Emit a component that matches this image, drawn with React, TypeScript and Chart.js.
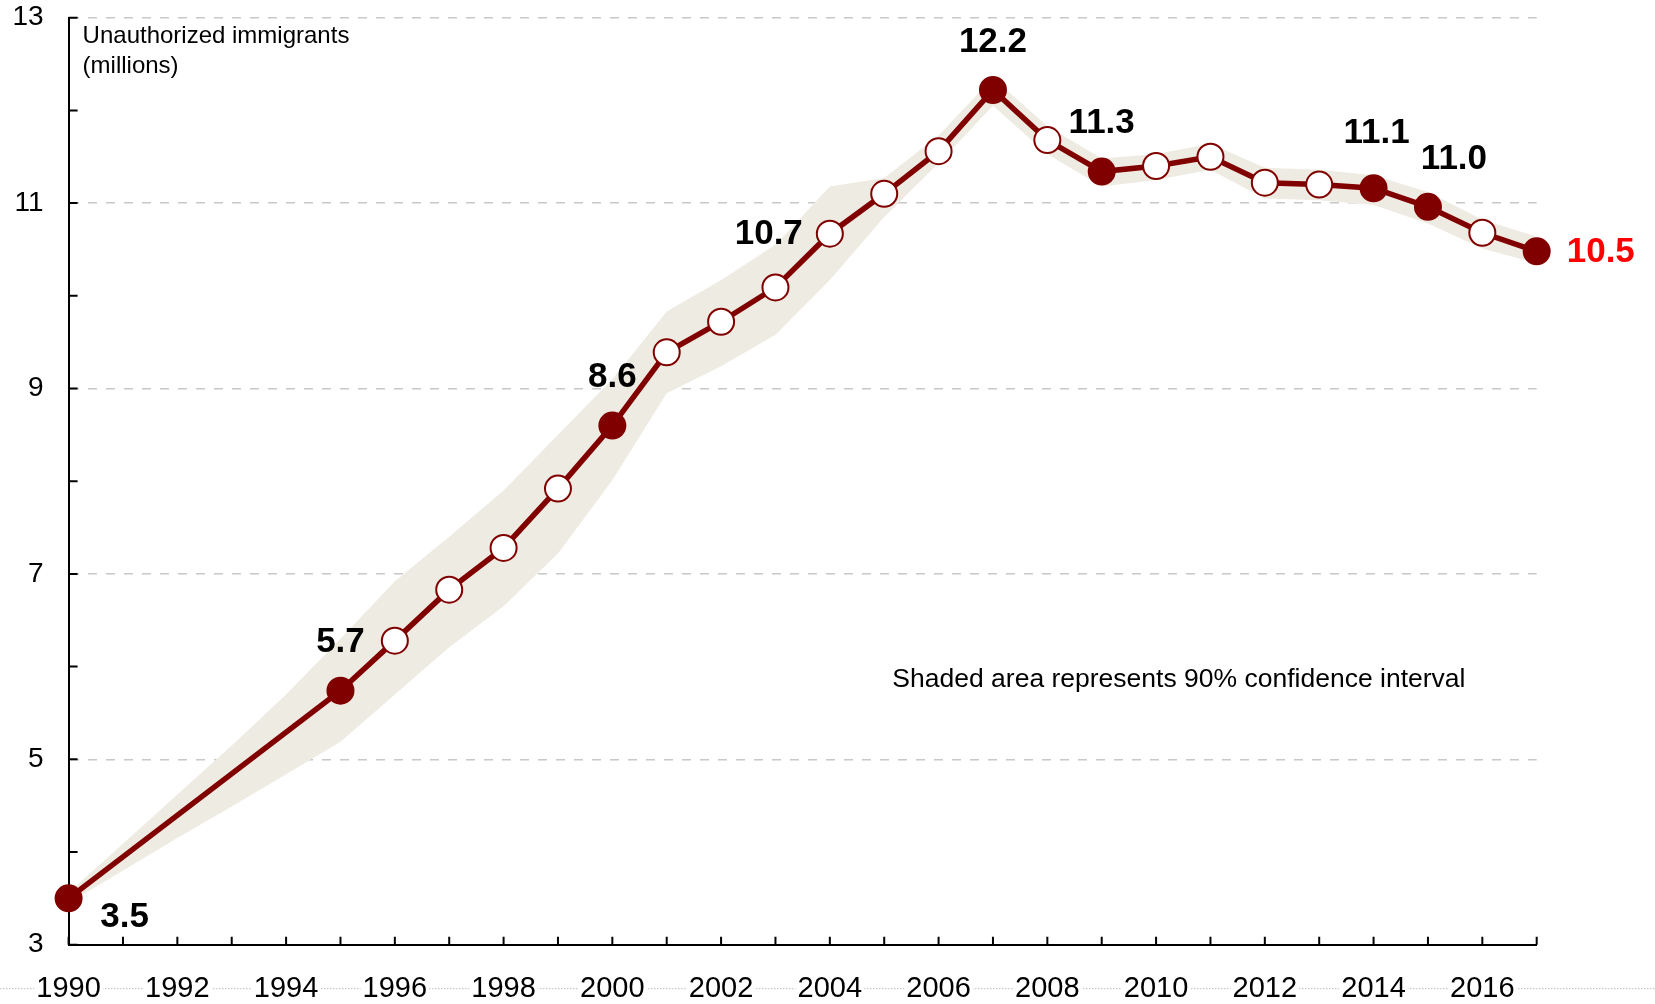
import React, { useEffect, useRef } from 'react';
import { Chart, registerables } from 'chart.js';

Chart.register(...registerables);

// ---------- data ----------
const years = [1990, 1995, 1996, 1997, 1998, 1999, 2000, 2001, 2002, 2003, 2004, 2005, 2006, 2007, 2008, 2009, 2010, 2011, 2012, 2013, 2014, 2015, 2016, 2017];
const estimates = [3.5, 5.74, 6.28, 6.83, 7.28, 7.92, 8.6, 9.39, 9.72, 10.09, 10.67, 11.1, 11.56, 12.22, 11.68, 11.34, 11.4, 11.5, 11.22, 11.2, 11.16, 10.96, 10.68, 10.48];

const bandYears = [1990, 1991, 1992, 1993, 1994, 1995, 1996, 1997, 1998, 1999, 2000, 2001, 2002, 2003, 2004, 2005, 2006, 2007, 2008, 2009, 2010, 2011, 2012, 2013, 2014, 2015, 2016, 2017];
const bandUpper = [3.56, 4.09, 4.62, 5.15, 5.7, 6.3, 6.92, 7.4, 7.9, 8.5, 9.1, 9.83, 10.17, 10.55, 11.18, 11.27, 11.73, 12.35, 11.83, 11.48, 11.53, 11.64, 11.38, 11.36, 11.3, 11.12, 10.82, 10.64];
const bandLower = [3.45, 3.8, 4.15, 4.49, 4.84, 5.19, 5.7, 6.21, 6.65, 7.22, 8.01, 8.95, 9.24, 9.58, 10.17, 10.85, 11.43, 12.05, 11.53, 11.18, 11.25, 11.36, 11.05, 11.03, 10.98, 10.78, 10.51, 10.35];

const highlightedYears = [1990, 1995, 2000, 2007, 2009, 2014, 2015, 2017];
const labelYears = [1990, 1995, 2000, 2004, 2007, 2009, 2014, 2015, 2017];
const labelTexts = ['3.5', '5.7', '8.6', '10.7', '12.2', '11.3', '11.1', '11.0', '10.5'];

const xMin = 1990;
const xMax = 2017;
const yMin = 3;
const yMax = 13;

const axisTitleLines = ['Unauthorized immigrants', '(millions)'];
const noteText = 'Shaded area represents 90% confidence interval';

// ---------- styles ----------
const FONT = '"Liberation Sans", Arial, Helvetica, sans-serif';
const LINE_COLOR = '#800000';
const BAND_COLOR = 'rgb(238,235,226)';

const placementFor = (year: number) => {
  if (year === 1990) return { align: 'center', dx: 56, dy: 19, color: '#000' };
  if (year === 2004) return { align: 'right', dx: -27, dy: 1, color: '#000' };
  if (year === 2014) return { align: 'center', dx: 3, dy: -55, color: '#000' };
  if (year === 2015) return { align: 'center', dx: 26, dy: -47, color: '#000' };
  if (year === 2017) return { align: 'left', dx: 30, dy: 1, color: '#ff0000' };
  return { align: 'center', dx: 0, dy: -48, color: '#000' };
};

const decorPlugin = {
  id: 'decor',
  beforeDraw(chart: any) {
    const { ctx } = chart;
    const xs = chart.scales.x;
    ctx.save();
    ctx.fillStyle = '#fff';
    ctx.fillRect(0, 0, chart.width, chart.height);
    const ruleY = xs.top + 44;
    ctx.strokeStyle = '#bdbdbd';
    ctx.lineWidth = 1;
    ctx.setLineDash([1.5, 1.5]);
    ctx.beginPath();
    ctx.moveTo(0, ruleY);
    ctx.lineTo(chart.width, ruleY);
    ctx.stroke();
    ctx.setLineDash([]);
    ctx.font = `29px ${FONT}`;
    ctx.fillStyle = '#fff';
    for (let yr = xMin; yr <= xMax; yr += 1) {
      if (yr % 2 !== 0) continue;
      const px = xs.getPixelForValue(yr);
      const w = ctx.measureText(String(yr)).width;
      ctx.fillRect(px - w / 2 - 2, ruleY - 14, w + 4, 28);
    }
    ctx.restore();
  },
  beforeDatasetsDraw(chart: any) {
    const { ctx, chartArea } = chart;
    const xs = chart.scales.x;
    const ys = chart.scales.y;
    ctx.save();
    ctx.strokeStyle = '#000';
    ctx.lineWidth = 2;
    ctx.beginPath();
    for (let v = yMin; v <= yMax; v += 1) {
      const py = ys.getPixelForValue(v);
      ctx.moveTo(chartArea.left, py);
      ctx.lineTo(chartArea.left + 9, py);
    }
    for (let yr = xMin; yr <= xMax; yr += 1) {
      const px = xs.getPixelForValue(yr);
      ctx.moveTo(px, chartArea.bottom);
      ctx.lineTo(px, chartArea.bottom - 8);
    }
    ctx.stroke();

    ctx.fillStyle = '#000';
    ctx.textAlign = 'left';
    ctx.textBaseline = 'alphabetic';
    ctx.font = `24px ${FONT}`;
    ctx.fillText(axisTitleLines[0], chartArea.left + 14, chartArea.top + 25);
    ctx.fillText(axisTitleLines[1], chartArea.left + 14, chartArea.top + 55.5);
    ctx.font = `26.5px ${FONT}`;
    ctx.fillText(noteText, xs.getPixelForValue(2005.15), ys.getPixelForValue(5.78));
    ctx.restore();
  },
  afterDatasetsDraw(chart: any) {
    const { ctx } = chart;
    const meta = chart.getDatasetMeta(0);
    ctx.save();
    ctx.font = `bold 35px ${FONT}`;
    ctx.textBaseline = 'middle';
    labelYears.forEach((yr, i) => {
      const idx = years.indexOf(yr);
      const pt = meta.data[idx];
      if (!pt) return;
      const p = placementFor(yr);
      ctx.textAlign = p.align;
      ctx.fillStyle = p.color;
      ctx.fillText(labelTexts[i], pt.x + p.dx, pt.y + p.dy);
    });
    ctx.restore();
  },
};

export default function App() {
  const ref = useRef<HTMLCanvasElement>(null);

  useEffect(() => {
    document.body.style.margin = '0';
    const canvas = ref.current;
    if (!canvas) return;
    const chart = new Chart(canvas, {
      type: 'line',
      data: {
        datasets: [
          {
            label: 'Estimate',
            data: years.map((yr, i) => ({ x: yr, y: estimates[i] })),
            borderColor: LINE_COLOR,
            borderWidth: 5.5,
            pointRadius: 13,
            pointHoverRadius: 13,
            pointBorderWidth: 2,
            pointBorderColor: LINE_COLOR,
            pointBackgroundColor: (c: any) =>
              highlightedYears.includes(years[c.dataIndex]) ? LINE_COLOR : '#ffffff',
            fill: false,
            tension: 0,
            clip: false,
          } as any,
          {
            label: 'Upper',
            data: bandYears.map((yr, i) => ({ x: yr, y: bandUpper[i] })),
            borderWidth: 0,
            borderColor: 'rgba(0,0,0,0)',
            backgroundColor: BAND_COLOR,
            pointRadius: 0,
            pointHoverRadius: 0,
            fill: '+1',
            tension: 0,
          },
          {
            label: 'Lower',
            data: bandYears.map((yr, i) => ({ x: yr, y: bandLower[i] })),
            borderWidth: 0,
            borderColor: 'rgba(0,0,0,0)',
            pointRadius: 0,
            pointHoverRadius: 0,
            fill: false,
            tension: 0,
          },
        ],
      },
      options: {
        responsive: false,
        animation: false,
        devicePixelRatio: 1,
        events: [],
        layout: { padding: { left: 0, right: 118.3, top: 17.7, bottom: 0 } },
        plugins: {
          legend: { display: false },
          tooltip: { enabled: false },
        },
        scales: {
          x: {
            type: 'linear',
            min: xMin,
            max: xMax,
            ticks: {
              stepSize: 1,
              autoSkip: false,
              maxRotation: 0,
              minRotation: 0,
              padding: 27,
              color: '#000',
              font: { family: FONT, size: 29 },
              callback: (v: any) => (Number(v) % 2 === 0 ? String(v) : ''),
            },
            grid: { display: false, drawTicks: false },
            border: { display: true, color: '#000', width: 2 },
            afterFit: (s: any) => {
              s.height = 59.3;
              s.paddingLeft = 0;
              s.paddingRight = 0;
            },
          },
          y: {
            type: 'linear',
            min: yMin,
            max: yMax,
            ticks: {
              stepSize: 1,
              padding: 25,
              color: '#000',
              font: { family: FONT, size: 28 },
              callback: (v: any) => (Math.abs(Number(v) % 2) === 1 ? String(v) : ''),
            },
            grid: {
              drawTicks: false,
              lineWidth: 1.5,
              color: (c: any) =>
                c.tick && c.tick.value % 2 === 1 && c.tick.value > yMin ? '#c8c8c8' : 'rgba(0,0,0,0)',
            },
            border: { display: true, color: '#000', width: 2, dash: [9, 9] },
            afterFit: (s: any) => {
              s.width = 68.6;
              s.paddingTop = 0;
              s.paddingBottom = 0;
            },
          },
        },
      },
      plugins: [decorPlugin],
    } as any);
    return () => chart.destroy();
  }, []);

  return (
    <div style={{ position: 'absolute', left: 0, top: 0, width: 1655, height: 1004, background: '#fff' }}>
      <canvas ref={ref} width={1655} height={1004} style={{ display: 'block', width: 1655, height: 1004 }} />
    </div>
  );
}
